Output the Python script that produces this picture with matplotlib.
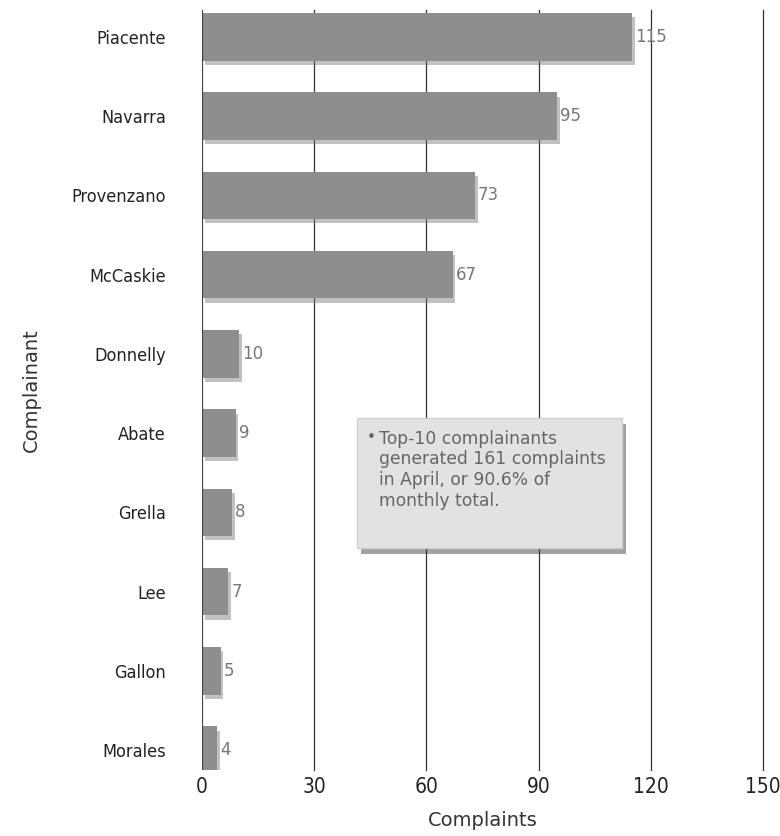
import matplotlib.pyplot as plt
import matplotlib.patheffects as pe
from matplotlib.patches import Rectangle

names = ["Piacente", "Navarra", "Provenzano", "McCaskie", "Donnelly",
         "Abate", "Grella", "Lee", "Gallon", "Morales"]
counts = [115, 95, 73, 67, 10, 9, 8, 7, 5, 4]
xticks = [0, 30, 60, 90, 120, 150]
note = "Top-10 complainants\ngenerated 161 complaints\nin April, or 90.6% of\nmonthly total."

narrow = "DejaVu Sans"

fig = plt.figure(figsize=(7.8, 8.36), dpi=100)
ax = fig.add_axes([0.259, 0.079, 0.719, 0.909])

# grid lines at each tick
for x in xticks[1:]:
    ax.axvline(x, color="#333333", linewidth=0.9, zorder=1, clip_on=False)
ax.axvline(0, color="#444444", linewidth=1.6, zorder=4)

pos = list(range(len(names)))
bars = ax.barh(pos, counts, height=0.6, color="#8e8e8e", zorder=3)
for b in bars:
    b.set_path_effects([pe.SimplePatchShadow(offset=(2, -3), shadow_rgbFace="#777777", alpha=0.45),
                        pe.Normal()])

for p, c in zip(pos, counts):
    ax.text(c + 0.8, p, str(c), va="center", ha="left", fontsize=12,
            color="#777777", zorder=5)

ax.set_ylim(9.25, -0.34)
ax.set_xlim(0, 150)
ax.set_yticks(pos)
ax.set_yticklabels(names, fontsize=13, family=narrow, stretch="condensed", color="#222222")
ax.set_xticks(xticks)
ax.set_xticklabels([str(x) for x in xticks], fontsize=15, family=narrow, stretch="condensed",
                   color="#222222")
ax.tick_params(axis="y", length=0, pad=26)
ax.tick_params(axis="x", length=0, pad=5)
for s in ax.spines.values():
    s.set_visible(False)

ax.set_xlabel("Complaints", fontsize=14, color="#333333", labelpad=10)
ax.set_ylabel("Complainant", fontsize=14, color="#333333", labelpad=22)

# note box
box = Rectangle((0.276, 0.292), 0.473, 0.171, transform=ax.transAxes,
                facecolor="#e2e2e2", edgecolor="#d0d0d0", zorder=6)
box.set_path_effects([pe.SimplePatchShadow(offset=(3, -4), alpha=0.5), pe.Normal()])
ax.add_patch(box)
ax.text(0.294, 0.447, "\u2022", transform=ax.transAxes, fontsize=11, color="#666666",
        va="top", ha="left", zorder=8)
ax.text(0.315, 0.448, note, transform=ax.transAxes, fontsize=12.3, color="#666666",
        va="top", ha="left", linespacing=1.2, zorder=8)

fig.savefig("out.png", dpi=100, facecolor="white")
